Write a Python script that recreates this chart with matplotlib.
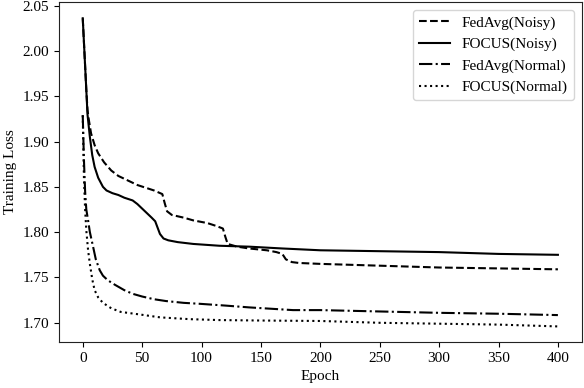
import matplotlib
matplotlib.use('Agg')
import matplotlib.pyplot as plt

plt.rcParams['font.family'] = ['Liberation Serif', 'DejaVu Serif']
plt.rcParams['font.size'] = 11

# FedAvg (Noisy)
ep_fa_noisy = [0, 3, 4, 5, 7, 10, 13, 18, 24, 30, 38, 46, 53, 60, 67, 69, 71, 75, 85, 93, 105, 112, 118,
               120, 122, 130, 140, 155, 163, 168, 171, 176, 182, 200, 250, 300, 350, 400]
fa_noisy = [2.036, 1.957, 1.935, 1.925, 1.909, 1.896, 1.887, 1.877, 1.868, 1.862, 1.857, 1.852, 1.849, 1.846, 1.842,
            1.832, 1.823, 1.819, 1.816, 1.813, 1.810, 1.807, 1.804, 1.795, 1.787, 1.784, 1.782, 1.780, 1.778, 1.776,
            1.770, 1.767, 1.766, 1.765, 1.763, 1.761, 1.760, 1.759]

# FOCUS (Noisy)
ep_fo_noisy = [0, 3, 4, 6, 8, 10, 13, 17, 20, 25, 30, 35, 42, 46, 50, 54, 58, 61, 63, 65, 68, 72, 80, 93,
               115, 140, 168, 200, 250, 300, 350, 400]
fo_noisy = [2.036, 1.957, 1.930, 1.905, 1.885, 1.872, 1.860, 1.850, 1.846, 1.843, 1.841, 1.838, 1.835, 1.831,
            1.826, 1.821, 1.816, 1.812, 1.805, 1.798, 1.793, 1.791, 1.789, 1.787, 1.785, 1.784, 1.782, 1.780,
            1.779, 1.778, 1.776, 1.775]

# FedAvg (Normal)
ep_fa_normal = [0, 1, 2, 3, 4.5, 6, 8.7, 11, 14.3, 17, 21, 27, 35, 42, 50, 60, 70, 85, 98, 120, 140, 177, 200,
                250, 300, 350, 400]
fa_normal = [1.929, 1.880, 1.845, 1.825, 1.813, 1.800, 1.784, 1.770, 1.758, 1.752, 1.747, 1.742, 1.736, 1.732,
             1.729, 1.726, 1.724, 1.722, 1.721, 1.719, 1.717, 1.714, 1.714, 1.7125, 1.711, 1.710, 1.7085]

# FOCUS (Normal)
ep_fo_normal = [0, 1, 2, 3, 4.5, 6, 8, 10, 13, 17, 24, 32, 49, 65, 90, 115, 150, 200, 250, 300, 350, 400]
fo_normal = [1.929, 1.860, 1.825, 1.802, 1.780, 1.765, 1.748, 1.736, 1.728, 1.722, 1.716, 1.712, 1.709, 1.706,
             1.704, 1.703, 1.7025, 1.702, 1.700, 1.699, 1.698, 1.696]


def main():
    fig, ax = plt.subplots(figsize=(5.84, 3.88), dpi=100)
    ax.plot(ep_fa_noisy, fa_noisy, '--', color='black', lw=1.5, label='FedAvg(Noisy)')
    ax.plot(ep_fo_noisy, fo_noisy, '-', color='black', lw=1.5, label='FOCUS(Noisy)')
    ax.plot(ep_fa_normal, fa_normal, '-.', color='black', lw=1.5, label='FedAvg(Normal)')
    ax.plot(ep_fo_normal, fo_normal, ':', color='black', lw=1.5, label='FOCUS(Normal)')
    ax.set_xlabel('Epoch')
    ax.set_ylabel('Training Loss')
    ax.set_xticks([0, 50, 100, 150, 200, 250, 300, 350, 400])
    ax.set_yticks([1.70, 1.75, 1.80, 1.85, 1.90, 1.95, 2.00, 2.05])
    ax.set_xlim(-20, 420)
    ax.set_ylim(1.679, 2.054)
    for s in ax.spines.values():
        s.set_color('#222222')
    ax.legend(loc='upper right', frameon=True, edgecolor='#cccccc')
    fig.subplots_adjust(left=0.101, right=0.996, bottom=0.119, top=0.995)
    fig.savefig('out.png', dpi=100)


if __name__ == '__main__':
    main()
